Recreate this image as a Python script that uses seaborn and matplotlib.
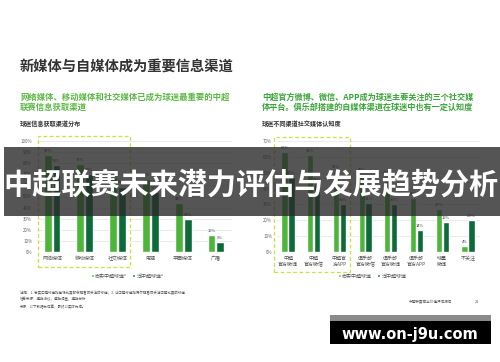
import numpy as np
import pandas as pd
import matplotlib
matplotlib.use('Agg')
import matplotlib.pyplot as plt
import seaborn as sns
from matplotlib.patches import Rectangle
from matplotlib.ticker import FuncFormatter

# ---------------- data ----------------
left_categories = ['网络媒体', '移动媒体', '社交媒体', '电视', '平面媒体', '广播']
left_loyal = [87, 79, 68, 66, 44, 15]
left_casual = [78, 70, 59, 54, 30, 9]
left_series = ['忠实中超球迷²', '泛中超球迷²']
left_yticks = [0, 10, 20, 30, 40, 50, 60, 70, 80, 90, 100]

right_categories = ['中超\n官方微博', '中超\n官方微信', '中超官\n方APP', '俱乐部\n官方微信',
                    '俱乐部\n官方微博', '俱乐部\n官方APP', '球星\n微博', '不关注']
right_loyal = [63, 61, 51, 49, 47, 34, 27, 4]
right_casual = [47, 43, 30, 31, 30, 14, 19, 20]
right_series = ['忠实中超球迷', '泛中超球迷']
right_yticks = [0, 10, 20, 30, 40, 50, 60, 70]

banner_title = '中超联赛未来潜力评估与发展趋势分析'
main_title = '新媒体与自媒体成为重要信息渠道'
left_sub = ['网络媒体、移动媒体和社交媒体已成为球迷最重要的中超', '联赛信息获取渠道']
right_sub = ['中超官方微博、微信、APP成为球迷主要关注的三个社交媒', '体平台。俱乐部搭建的自媒体渠道在球迷中也有一定认知度']
left_chart_title = '球迷信息获取渠道分布'
right_chart_title = '球迷不同渠道社交媒体认知度'
watermark = 'www.on-j9u.com'

LIGHT = '#4cb53a'
DARK = '#0d6b3a'

sns.set_theme(style='white')
plt.rcParams['font.family'] = ['Noto Sans CJK SC', 'DejaVu Sans']

W, H = 500, 362
def fx(x):
    return x / W
def fy(y):
    return 1 - y / H

fig = plt.figure(figsize=(5, 3.62), dpi=100)
fig.patch.set_facecolor('white')


def make_df(cats, a, b, names):
    return pd.DataFrame({
        'cat': cats + cats,
        'val': a + b,
        'grp': [names[0]] * len(cats) + [names[1]] * len(cats),
    })


def draw(ax, df, cats, yticks, xlim, ymax, legend_xy):
    sns.barplot(data=df, x='cat', y='val', hue='grp', order=cats,
                palette=[LIGHT, DARK], width=0.54, gap=0.1, ax=ax,
                saturation=1, legend=True)
    ax.set_xlim(*xlim)
    ax.set_ylim(0, ymax)
    ax.set_yticks(yticks)
    ax.yaxis.set_major_formatter(FuncFormatter(lambda v, p: f'{int(v)}%'))
    ax.set_xlabel('')
    ax.set_ylabel('')
    for s in ax.spines.values():
        s.set_visible(False)
    ax.yaxis.grid(True, color='#e3e3e3', lw=0.5)
    ax.set_axisbelow(True)
    ax.tick_params(axis='y', length=0, labelsize=3.2, labelcolor='#666666', pad=3.5)
    ax.tick_params(axis='x', length=0, labelsize=3.6, labelcolor='#555555', pad=3)
    ax.set_facecolor('none')
    for c in ax.containers:
        ax.bar_label(c, fmt='%d%%', fontsize=3, padding=1.5, color='#444444')
    h, l = ax.get_legend_handles_labels()
    ax.legend(h, l, ncol=2, frameon=False, fontsize=3.6, loc='center',
              bbox_to_anchor=legend_xy, bbox_transform=fig.transFigure,
              handlelength=0.6, handleheight=0.6, handletextpad=0.3,
              columnspacing=1.0, labelcolor='#555555')


ax1 = fig.add_axes([fx(37), fy(252), 195 / W, 111 / H])
draw(ax1, make_df(left_categories, left_loyal, left_casual, left_series),
     left_categories, left_yticks, (-0.46, 5.49), 100, (fx(127), fy(276)))

ax2 = fig.add_axes([fx(277), fy(252), 203 / W, 111 / H])
draw(ax2, make_df(right_categories, right_loyal, right_casual, right_series),
     right_categories, right_yticks, (-0.43, 7.47), 70, (fx(372), fy(276)))

# texts
fig.text(fx(20), fy(67), main_title, fontsize=10.3, fontweight='bold', color='#333333', va='center', ha='left')
for i, t in enumerate(left_sub):
    fig.text(fx(20), fy(97 + 10 * i), t, fontsize=6, color='#5cb845', va='center', ha='left', fontweight='bold')
for i, t in enumerate(right_sub):
    fig.text(fx(262), fy(97 + 10 * i), t, fontsize=5.9, color='#3aa53a', va='center', ha='left', fontweight='bold')
fig.text(fx(20), fy(123), left_chart_title, fontsize=4.4, color='#333333', va='center', ha='left', fontweight='bold')
fig.text(fx(262), fy(123), right_chart_title, fontsize=4.4, color='#333333', va='center', ha='left', fontweight='bold')

fig.text(fx(20), fy(293), '注释：1. 忠实中超球迷指每场比赛都会观看或关注的球迷；2. 泛中超球迷指偶尔观看或关注中超比赛的球迷',
         fontsize=2.5, color='#555555', va='center', ha='left')
fig.text(fx(20), fy(299), '信息来源：德勤访谈，德勤调查，德勤分析', fontsize=2.5, color='#555555', va='center', ha='left')
fig.text(fx(20), fy(307), '来源：以下数据为估算，最终以实际为准。', fontsize=2.5, color='#555555', va='center', ha='left')
fig.text(fx(430), fy(302), '中超联赛商业价值评估报告', fontsize=2.6, color='#555555', va='center', ha='center')
fig.text(fx(477), fy(302), '22', fontsize=2.8, color='#555555', va='center', ha='center')

# dashed highlight boxes
for (x0, y0, x1, y1) in [(38, 136, 130, 267), (274, 137, 350, 272)]:
    fig.add_artist(Rectangle((fx(x0), fy(y1)), (x1 - x0) / W, (y1 - y0) / H,
                             transform=fig.transFigure, fill=False,
                             edgecolor='#d2df3e', lw=0.9, linestyle=(0, (3, 2)), zorder=5))

# banner overlay
fig.add_artist(Rectangle((fx(4), fy(216)), (W - 4) / W, 69 / H, transform=fig.transFigure,
                         facecolor='#2a2a2a', alpha=0.8, edgecolor='none', zorder=10))
fig.text(fx(251), fy(185), banner_title, fontsize=21, fontweight='bold', color='white',
         ha='center', va='center', zorder=11)

# watermark box
fig.add_artist(Rectangle((fx(330), fy(321)), 161 / W, 6 / H, transform=fig.transFigure,
                         facecolor='#8a8a8a', edgecolor='none', zorder=10))
fig.add_artist(Rectangle((fx(330), fy(344)), 161 / W, 23 / H, transform=fig.transFigure,
                         facecolor='black', edgecolor='none', zorder=10))
fig.text(fx(410), fy(334), watermark, fontsize=10.5, fontweight='bold', color='white',
         ha='center', va='center', zorder=11, family='DejaVu Sans')

fig.savefig('out.png', dpi=100)
